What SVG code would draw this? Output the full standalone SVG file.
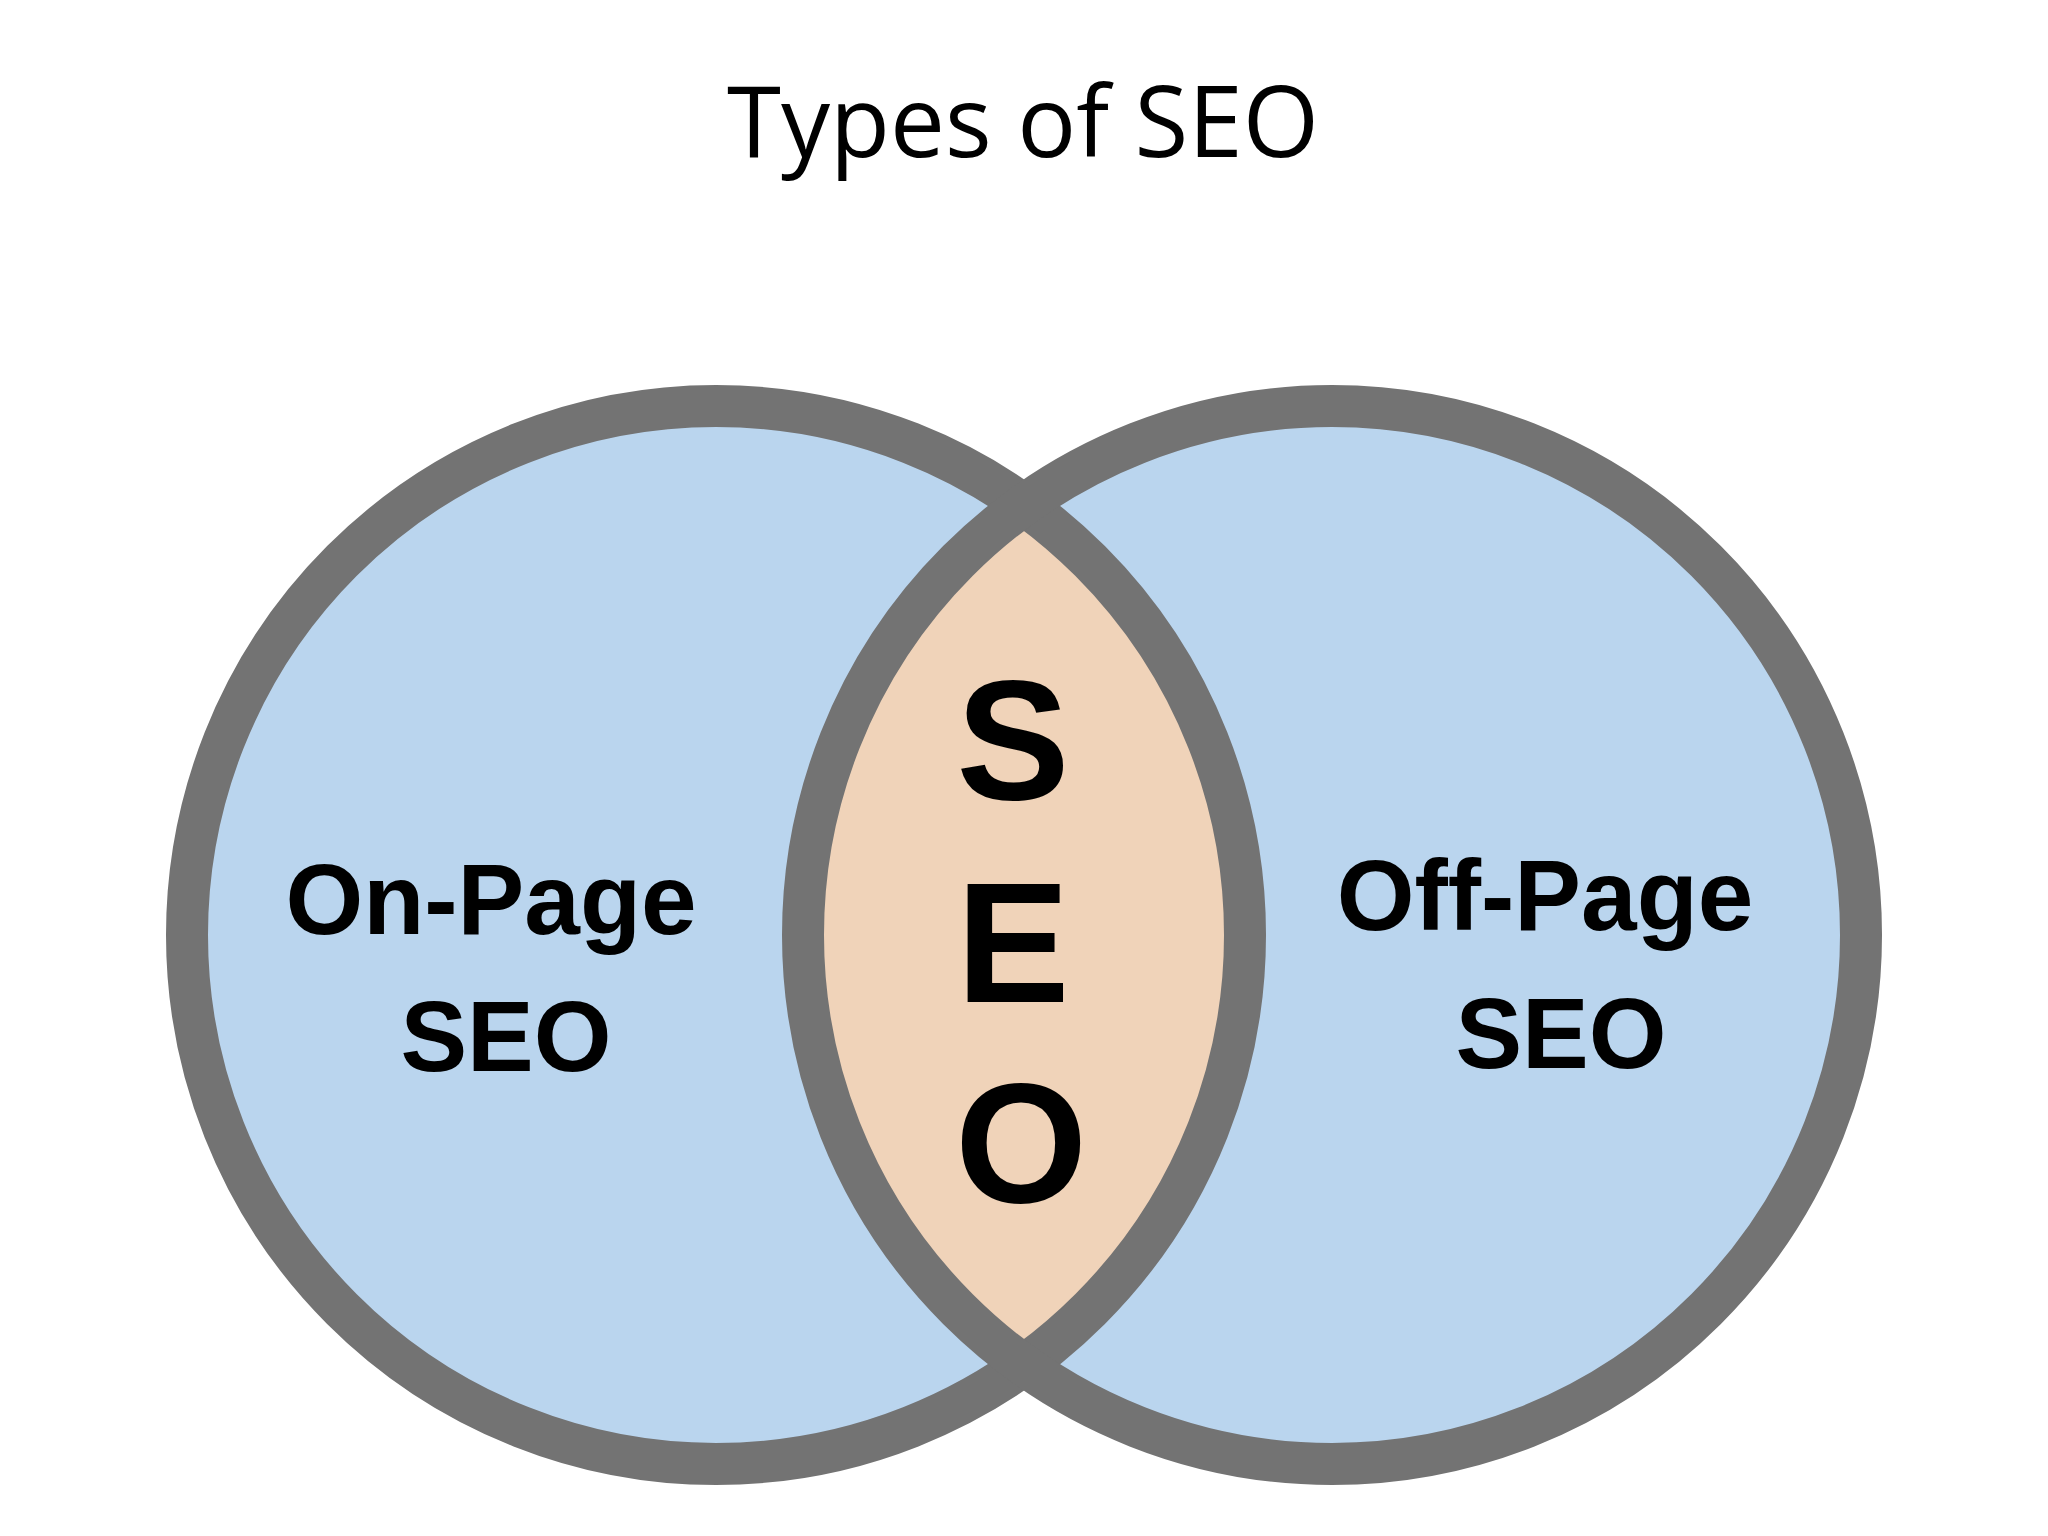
<svg xmlns="http://www.w3.org/2000/svg" width="2048" height="1536" viewBox="0 0 2048 1536">
<style>
.ring{fill:none;stroke:#737373;stroke-width:42}
.lbl{font-family:"Liberation Sans",Arial,sans-serif;font-weight:bold;fill:#000;text-anchor:middle}
</style>
<defs><clipPath id="cl"><circle cx="716" cy="935" r="529"/></clipPath></defs>
<rect width="2048" height="1536" fill="#fff"/>
<text x="1023" y="157" font-family="'Open Sans','Noto Sans',sans-serif" font-size="98" text-anchor="middle" fill="#000">Types of SEO</text>
<g id="left-circle"><circle cx="716" cy="935" r="529" fill="#bad5ee"/></g>
<g id="right-circle"><circle cx="1332" cy="935" r="529" fill="#bad5ee"/></g>
<g id="center"><circle cx="1332" cy="935" r="529" fill="#f0d3b9" clip-path="url(#cl)"/></g>
<g id="rings"><circle class="ring" cx="716" cy="935" r="529"/><circle class="ring" cx="1332" cy="935" r="529"/></g>
<g id="on-page" class="lbl" font-size="100"><text x="491" y="934">On-Page</text><text x="506" y="1071">SEO</text></g>
<g id="off-page" class="lbl" font-size="100"><text x="1545" y="930">Off-Page</text><text x="1561" y="1068">SEO</text></g>
<g id="seo" class="lbl" font-size="170"><text x="1013" y="799">S</text><text x="1013" y="1002">E</text><text x="1021" y="1202">O</text></g>
</svg>
